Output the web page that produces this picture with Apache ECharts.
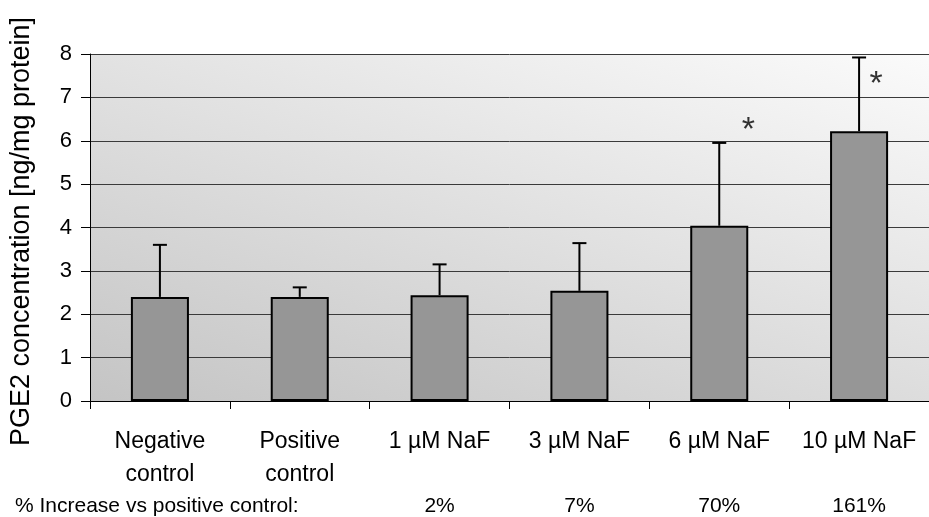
<!DOCTYPE html>
<html><head><meta charset="utf-8">
<script src="https://cdn.jsdelivr.net/npm/echarts@6/dist/echarts.min.js"></script>
<style>html,body{margin:0;padding:0;background:#fff}#c{width:929px;height:517px}</style>
</head><body><div id="c"></div>
<script>
const categories = ['Negative\ncontrol', 'Positive\ncontrol', '1 µM NaF', '3 µM NaF', '6 µM NaF', '10 µM NaF'];
const means = [2.40, 2.40, 2.44, 2.54, 4.04, 6.22];
const upperErr = [3.60, 2.62, 3.15, 3.64, 5.95, 7.92];
const pctLabels = ['', '', '2%', '7%', '70%', '161%'];
const starY = [null, null, null, null, 6.42, 7.48];
const yTicks = [0, 1, 2, 3, 4, 5, 6, 7, 8];

const FONT = 'Arial, "Liberation Sans", sans-serif';
const chart = echarts.init(document.getElementById('c'));

const starOffsets = [0, 0, 0, 0, 29, 17];

chart.setOption({
  animation: false,
  grid: {
    left: 90, top: 54, width: 846, height: 349,
    show: true, borderWidth: 0,
    backgroundColor: new echarts.graphic.LinearGradient(90, 403, 282, -167, [
      { offset: 0, color: '#c4c4c4' },
      { offset: 1, color: '#fbfbfb' }
    ], true)
  },
  xAxis: [{
    type: 'category', data: categories, position: 'bottom',
    axisLine: { show: true, lineStyle: { color: '#000', width: 1 } },
    axisTick: { show: true, length: 8, lineStyle: { color: '#000' } },
    axisLabel: { interval: 0, color: '#000', fontFamily: FONT, fontSize: 23, lineHeight: 33, margin: 24 },
    splitLine: { show: false }
  }, {
    type: 'category', data: pctLabels, position: 'bottom',
    axisLine: { show: false }, axisTick: { show: false },
    axisLabel: { interval: 0, color: '#000', fontFamily: FONT, fontSize: 21, margin: 95 }
  }],
  yAxis: {
    type: 'value', min: yTicks[0], max: yTicks[yTicks.length - 1], interval: 1,
    name: 'PGE2 concentration [ng/mg protein]',
    nameLocation: 'middle', nameGap: 55,
    nameTextStyle: { color: '#000', fontFamily: FONT, fontSize: 27, padding: [0, 8, 0, 0] },
    axisLine: { show: true, lineStyle: { color: '#000', width: 1 } },
    axisTick: { show: true, length: 9, lineStyle: { color: '#000' } },
    axisLabel: { color: '#000', fontFamily: FONT, fontSize: 22, margin: 18 },
    splitLine: { show: true, lineStyle: { color: '#3a3a3a', width: 1 } }
  },
  graphic: [{
    type: 'text', left: 15, top: 496,
    style: { text: '% Increase vs positive control:', fontFamily: FONT, fontSize: 21, fill: '#000' }
  }],
  series: [{
    type: 'bar', data: means, barWidth: '41.5%', xAxisIndex: 0,
    itemStyle: { color: '#969696', borderColor: '#000', borderWidth: 2 },
    z: 2
  }, {
    type: 'custom', xAxisIndex: 0, z: 3,
    data: means.map((m, i) => [i, m, upperErr[i]]),
    renderItem: function (params, api) {
      const i = api.value(0);
      const p0 = api.coord([i, api.value(1)]);
      const p1 = api.coord([i, api.value(2)]);
      const hw = 7;
      return {
        type: 'group',
        children: [
          { type: 'line', shape: { x1: p0[0], y1: p0[1], x2: p1[0], y2: p1[1] }, style: { stroke: '#000', lineWidth: 2 } },
          { type: 'line', shape: { x1: p1[0] - hw, y1: p1[1], x2: p1[0] + hw, y2: p1[1] }, style: { stroke: '#000', lineWidth: 2 } }
        ]
      };
    }
  }, {
    type: 'scatter', xAxisIndex: 0, symbolSize: 0, z: 4,
    data: starY.map((v, i) => v == null ? null : {
      value: [i, v],
      label: { offset: [starOffsets[i], 8] }
    }).filter(d => d),
    label: { show: true, position: 'inside', formatter: '*', fontFamily: FONT, fontSize: 34, color: '#000' }
  }]
});
</script></body></html>
